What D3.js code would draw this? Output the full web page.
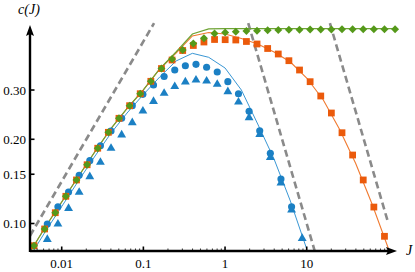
<!DOCTYPE html>
<html lang="en">
<head>
  <meta charset="UTF-8">
  <title>c(J)</title>
  <style>
    body {
      margin: 0;
      background-color: #fff;
    }

    svg {
      display: block;
    }

    text {
      font-family: "Liberation Serif", "DejaVu Serif", serif;
    }
  </style>
</head>
<body>
<div class="chart"></div>
<script src="https://d3js.org/d3.v7.min.js"></script>
<script>
  // J grid of the square / diamond markers
  let jGrid = [0.00458, 0.00618, 0.00834, 0.01124, 0.01517, 0.02047, 0.02761, 0.03725, 0.05025, 0.0678,
    0.0915, 0.1234, 0.1665, 0.2246, 0.303, 0.4088, 0.5515, 0.744, 1.0035, 1.354,
    1.827, 2.464, 3.325, 4.485, 6.051, 8.164, 11.01, 14.86, 20.04, 27.04,
    36.48, 49.21, 66.39, 89.57, 120.8]

  let greenC = [0.0833, 0.0956, 0.1093, 0.1251, 0.1431, 0.1622, 0.1858, 0.2118, 0.2377, 0.2637,
    0.291, 0.3223, 0.358, 0.3873, 0.417, 0.44, 0.4592, 0.4777, 0.4817, 0.4848,
    0.4876, 0.4888, 0.4904, 0.4916, 0.4924, 0.493, 0.4935, 0.494, 0.494, 0.4945,
    0.4945, 0.4945, 0.4945, 0.4945, 0.4945]

  let orangeC = [0.0833, 0.0956, 0.1093, 0.1251, 0.1431, 0.1622, 0.1858, 0.2118, 0.2377, 0.2637,
    0.291, 0.3223, 0.358, 0.3841, 0.4153, 0.4328, 0.4454, 0.4547, 0.454, 0.4528,
    0.4473, 0.4382, 0.4222, 0.4035, 0.3819, 0.3537, 0.3213, 0.2856, 0.2483, 0.2111,
    0.1757, 0.1431, 0.1145, 0.09]

  // J grid of the blue markers
  let jBlue = [0.006664, 0.008989, 0.01213, 0.01636, 0.02207, 0.02978, 0.04017, 0.0542, 0.07311, 0.09865,
    0.1331, 0.1795, 0.2422, 0.3267, 0.4408, 0.5947, 0.8023, 1.082, 1.46, 1.97,
    2.658, 3.585, 4.837, 6.526, 8.805]

  let circleC = [0.0996, 0.1148, 0.1296, 0.1487, 0.1677, 0.1897, 0.2141, 0.2377, 0.2637, 0.2896,
    0.3126, 0.3353, 0.3537, 0.3665, 0.3707, 0.3617, 0.3479, 0.3213, 0.291, 0.252,
    0.2146, 0.1782, 0.1442, 0.1148]

  let triangleC = [0.0877, 0.0996, 0.1133, 0.1293, 0.147, 0.1655, 0.1857, 0.2072, 0.2292, 0.2524,
    0.273, 0.292, 0.3088, 0.3205, 0.3258, 0.3231, 0.3145, 0.2959, 0.2718, 0.2389,
    0.208, 0.1724, 0.1396, 0.1118, 0.0885]

  // theory curves
  let lineJ = [0.00398, 0.00631, 0.01, 0.01585, 0.02512, 0.03981, 0.0631, 0.1, 0.1585, 0.2512,
    0.3981, 0.631, 1, 1.585, 2.512, 3.981, 6.31, 10, 15.85, 25.12,
    39.81, 63.1, 100, 120.8]

  let greenLineC = [0.0781, 0.0972, 0.1194, 0.1466, 0.1794, 0.2177, 0.2577, 0.3005, 0.3567, 0.4102,
    0.4757, 0.496, 0.497, 0.497, 0.497, 0.497, 0.497, 0.497, 0.497, 0.497,
    0.497, 0.497, 0.497, 0.497]

  let orangeLineC = [0.0781, 0.0972, 0.1194, 0.1466, 0.1794, 0.2177, 0.2577, 0.3005, 0.3567, 0.4069,
    0.468, 0.4817, 0.4757, 0.4584, 0.4382, 0.4102, 0.3778, 0.3312, 0.2775, 0.2177,
    0.1639, 0.1174, 0.0814]

  let blueLineC = [0.0753, 0.0936, 0.115, 0.1413, 0.1729, 0.2097, 0.2483, 0.2891, 0.3339, 0.3809,
    0.4058, 0.3927, 0.3596, 0.3, 0.2268, 0.17, 0.1203, 0.0811]

  // dashed asymptotes
  let asymLeftJ = [0.00409, 0.1352]
  let asymLeftC = [0.0904, 0.52]
  let asymMidJ = [1.923, 12.54]
  let asymMidC = [0.52, 0.0797]
  let asymRightJ = [19.23, 100]
  let asymRightC = [0.52, 0.1]

  let xTicks = [0.01, 0.1, 1, 10]
  let xTickLabels = ['0.01', '0.1', '1', '10']
  let yTicks = [0.1, 0.15, 0.2, 0.3]
  let yTickLabels = ['0.10', '0.15', '0.20', '0.30']

  let width = 415, height = 272
  let mLeft = 30, mRight = 397, mBottom = 251, mTop = 25

  let svg = d3.select('.chart').append('svg')
    .attr('width', width)
    .attr('height', height)

  let x = d3.scaleLog().domain([0.00409, 127.5]).range([mLeft, mRight])
  let y = d3.scaleLog().domain([0.07975, 0.5123]).range([mBottom, mTop])

  let zip = (js, cs) => cs.map((c, i) => [js[i], c])

  svg.append('clipPath').attr('id', 'plot')
    .append('rect')
    .attr('x', mLeft).attr('y', 0)
    .attr('width', width - mLeft).attr('height', mBottom)

  let line = d3.line().x(d => x(d[0])).y(d => y(d[1]))

  let g = svg.append('g').attr('clip-path', 'url(#plot)')

  // dashed guides
  ;[[asymLeftJ, asymLeftC], [asymMidJ, asymMidC], [asymRightJ, asymRightC]].forEach(a => {
    g.append('path')
      .attr('d', line(zip(a[0], a[1])))
      .attr('fill', 'none')
      .attr('stroke', '#8a8a8a')
      .attr('stroke-width', 2.6)
      .attr('stroke-dasharray', '7,4')
  })

  let blue = '#1b80c4', orange = '#eb5a0b', green = '#55991a'

  g.append('path').attr('d', line(zip(lineJ, blueLineC)))
    .attr('fill', 'none').attr('stroke', '#3a97d4').attr('stroke-width', 1)
  g.append('path').attr('d', line(zip(lineJ, orangeLineC)))
    .attr('fill', 'none').attr('stroke', '#f07a30').attr('stroke-width', 1.1)
  g.append('path').attr('d', line(zip(lineJ, greenLineC)))
    .attr('fill', 'none').attr('stroke', '#6ea334').attr('stroke-width', 1.2)

  let markers = [
    {pts: zip(jBlue, triangleC), type: d3.symbolTriangle, size: 34, color: blue},
    {pts: zip(jBlue, circleC), type: d3.symbolCircle, size: 40, color: blue},
    {pts: zip(jGrid, orangeC), type: d3.symbolSquare, size: 46, color: orange},
    {pts: zip(jGrid, greenC), type: d3.symbolDiamond2, size: 40, color: green}
  ]

  markers.forEach(m => {
    g.append('g').selectAll('path')
      .data(m.pts)
      .enter()
      .append('path')
      .attr('d', d3.symbol().type(m.type).size(m.size))
      .attr('transform', d => 'translate(' + x(d[0]) + ',' + y(d[1]) + ')')
      .attr('fill', m.color)
  })

  // axes
  let axes = svg.append('g').attr('stroke', '#000')

  axes.append('line')
    .attr('x1', mLeft).attr('x2', mRight - 8)
    .attr('y1', mBottom).attr('y2', mBottom)
    .attr('stroke-width', 2.4)
  axes.append('line')
    .attr('x1', mLeft).attr('x2', mLeft)
    .attr('y1', mBottom + 1).attr('y2', mTop + 8)
    .attr('stroke-width', 2.4)

  svg.append('path')
    .attr('d', 'M' + mRight + ',' + mBottom + 'l-11,-4l2,4l-2,4z')
  svg.append('path')
    .attr('d', 'M' + mLeft + ',' + mTop + 'l-4,11l4,-2l4,2z')

  let minor = []
  ;[0.001, 0.01, 0.1, 1, 10, 100].forEach(d => {
    for (let k = 2; k < 10; k++) {
      let v = d * k
      if (v > x.domain()[0] && v < 110) minor.push(v)
    }
  })

  axes.selectAll('.minor')
    .data(minor)
    .enter()
    .append('line')
    .attr('class', 'minor')
    .attr('x1', d => x(d)).attr('x2', d => x(d))
    .attr('y1', mBottom).attr('y2', mBottom - 2.5)
    .attr('stroke-width', 0.8)

  axes.selectAll('.xt')
    .data(xTicks)
    .enter()
    .append('line')
    .attr('class', 'xt')
    .attr('x1', d => x(d)).attr('x2', d => x(d))
    .attr('y1', mBottom).attr('y2', mBottom - 4.5)
    .attr('stroke-width', 1.6)

  axes.selectAll('.yt')
    .data(yTicks)
    .enter()
    .append('line')
    .attr('class', 'yt')
    .attr('x1', mLeft).attr('x2', mLeft + 4.5)
    .attr('y1', d => y(d)).attr('y2', d => y(d))
    .attr('stroke-width', 1.6)

  svg.selectAll('.xl')
    .data(xTicks)
    .enter()
    .append('text')
    .attr('class', 'xl')
    .attr('x', d => x(d))
    .attr('y', mBottom + 16.5)
    .attr('text-anchor', 'middle')
    .attr('font-size', '13px')
    .text((d, i) => xTickLabels[i])

  svg.selectAll('.yl')
    .data(yTicks)
    .enter()
    .append('text')
    .attr('class', 'yl')
    .attr('x', mLeft - 4)
    .attr('y', d => y(d) + 4.5)
    .attr('text-anchor', 'end')
    .attr('font-size', '13px')
    .text((d, i) => yTickLabels[i])

  svg.append('text')
    .attr('x', 29)
    .attr('y', 14)
    .attr('text-anchor', 'middle')
    .attr('font-size', '14px')
    .attr('font-style', 'italic')
    .text('c(J)')

  svg.append('text')
    .attr('x', 406)
    .attr('y', 255)
    .attr('font-size', '14px')
    .attr('font-style', 'italic')
    .text('J')
</script>
</body>
</html>
